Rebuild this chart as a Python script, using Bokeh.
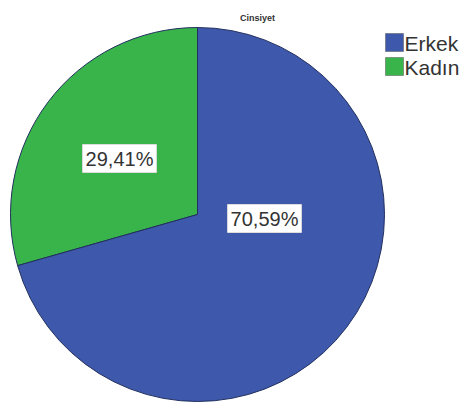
import math
from bokeh.plotting import figure
from bokeh.models import Range1d
from bokeh.core.properties import value
from bokeh.embed import file_html
from bokeh.resources import INLINE

# data
categories = ["Erkek", "Kadın"]
percents = [70.59, 29.41]
labels = ["70,59%", "29,41%"]
colors = ["#3E59AC", "#38B44A"]
title_text = "Cinsiyet"

W, H = 466, 403

def px(x):
    return x

def py(y):
    return H - y

p = figure(width=W, height=H, x_range=Range1d(0, W), y_range=Range1d(0, H),
           output_backend="svg", toolbar_location=None, min_border=0)
p.axis.visible = False
p.grid.visible = False
p.outline_line_color = None
p.background_fill_color = "white"
p.border_fill_color = "white"

cx, cy, R = px(197), py(214), 187

total = sum(percents)
a = math.pi / 2
for i in [1, 0]:
    span = 2 * math.pi * percents[i] / total
    p.wedge(x=cx, y=cy, radius=R, start_angle=a, end_angle=a + span,
            fill_color=colors[i], line_color="#22305e", line_width=1)
    a += span

# percentage labels
label_pos = {0: (264, 218), 1: (119, 158)}
for i in range(len(categories)):
    x, y = label_pos[i]
    p.text(x=[px(x)], y=[py(y)], text=[labels[i]], text_font=value("Liberation Sans"),
           text_font_size="20px", text_color="#333333", text_align="center",
           text_baseline="middle", background_fill_color="white",
           border_line_color="#dddddd", padding=3)

# title
p.text(x=[px(257)], y=[py(17)], text=[title_text], text_font=value("Liberation Sans"),
       text_font_size="9px", text_font_style="bold", text_color="#333333",
       text_align="center", text_baseline="middle")

# legend
for k, cat in enumerate(categories):
    ytop = 33 + k * 24
    p.rect(x=[px(394)], y=[py(ytop + 9)], width=18, height=18,
           fill_color=colors[k], line_color="#555555", line_width=0.5)
    p.text(x=[px(404)], y=[py(ytop + 10)], text=[cat], text_font=value("Liberation Sans"),
           text_font_size="21px", text_color="#333333", text_align="left",
           text_baseline="middle")

open("out.html", "w").write(file_html(p, INLINE))
